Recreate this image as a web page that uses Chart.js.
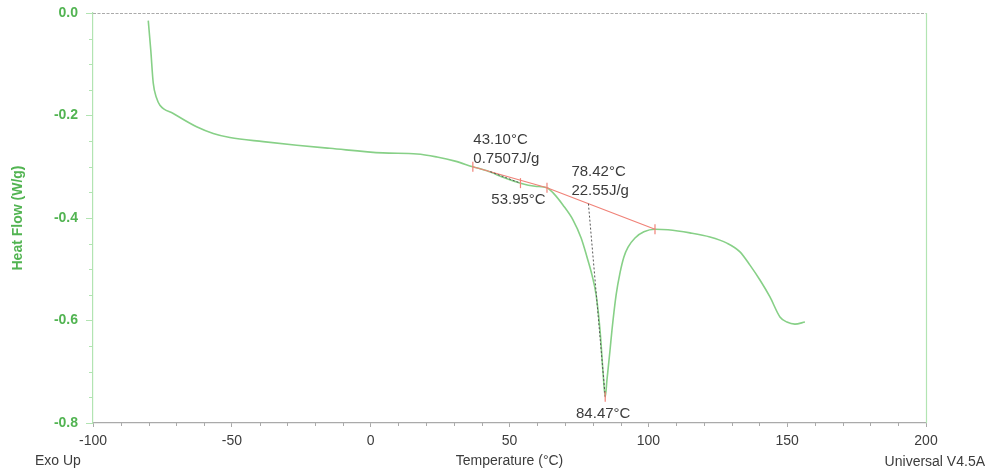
<!DOCTYPE html>
<html>
<head>
<meta charset="utf-8">
<script src="https://cdn.jsdelivr.net/npm/chart.js@4.4.1/dist/chart.umd.min.js"></script>
<style>
  html, body { margin: 0; padding: 0; background: #ffffff; }
  #wrap { width: 991px; height: 476px; }
</style>
</head>
<body>
<div id="wrap"><canvas id="dsc" width="991" height="476"></canvas></div>
<script>
// DSC heat-flow trace (°C, W/g)
const temperature = [
  -80.1, -79.2, -78.3, -77.1, -75.9, -71.1, -62.7, -56.7, -50.7, -38.7,
  -26.6, -14.7, 4.4, 16.7, 23.9, 30.4, 36.8, 41.9, 48.4, 53.95,
  59.2, 63.5, 65.7, 69.3, 72.9, 75.8, 77.9, 79.7, 81.2, 82.6,
  83.7, 84.47, 85.1, 86.2, 86.9, 88.4, 89.8, 91.2, 92.7, 95.2,
  98.4, 102.4, 107.1, 115.0, 122.2, 128.3, 133.0, 136.6, 140.2, 143.8,
  147.4, 149.9, 152.8, 156.4
];
const heatFlow = [
  -0.015, -0.072, -0.137, -0.166, -0.180, -0.196, -0.222, -0.235, -0.243, -0.251,
  -0.258, -0.264, -0.273, -0.275, -0.281, -0.289, -0.300, -0.308, -0.322, -0.332,
  -0.338, -0.341, -0.351, -0.375, -0.404, -0.439, -0.476, -0.511, -0.550, -0.619,
  -0.702, -0.749, -0.716, -0.658, -0.619, -0.550, -0.507, -0.476, -0.457, -0.439,
  -0.427, -0.422, -0.423, -0.429, -0.437, -0.449, -0.466, -0.492, -0.521, -0.554,
  -0.593, -0.603, -0.607, -0.603
];

// Integration baseline: start, split point, end
const baselineT = [36.8, 63.5, 102.4];
const baselineHF = [-0.300, -0.341, -0.422];

// Peak analysis results
const onsetT = [43.10, 78.42];
const enthalpy = [0.7507, 22.55];
const peakT = [53.95, 84.47];
const peakHF = [-0.332, -0.749];

// Axis ranges and tick spacing
const xRange = [-100, 200];
const yRange = [-0.8, 0.0];
const xMajorStep = 50, xMinorStep = 10;
const yMajorStep = 0.2, yMinorStep = 0.05;

const FONT = "'Liberation Sans', Arial, sans-serif";
const GREEN_LINE = 'rgb(135, 208, 135)';
const GREEN_AXIS = 'rgb(178, 228, 178)';
const GREEN_TEXT = 'rgb(82, 180, 82)';
const GREY_AXIS = 'rgb(170, 170, 170)';
const TEXT_DARK = '#3c3c3c';
const RED = 'rgb(240, 130, 120)';

function baselineAt(t) {
  for (let i = 0; i < baselineT.length - 1; i++) {
    if (t >= baselineT[i] && t <= baselineT[i + 1]) {
      const f = (t - baselineT[i]) / (baselineT[i + 1] - baselineT[i]);
      return baselineHF[i] + f * (baselineHF[i + 1] - baselineHF[i]);
    }
  }
  return baselineHF[baselineHF.length - 1];
}

const curve = temperature.map((t, i) => ({ x: t, y: heatFlow[i] }));
const baseline = baselineT.map((t, i) => ({ x: t, y: baselineHF[i] }));
const peaks = peakT.map((t, i) => ({ x: t, y: peakHF[i] }));
const onsetLines = onsetT.map((t, i) => [
  { x: t, y: baselineAt(t) },
  { x: peakT[i], y: peakHF[i] }
]);

// Frame lines, minor ticks and text annotations
const dscDecor = {
  id: 'dscDecor',
  beforeDatasetsDraw(chart) {
    const { ctx, chartArea: a } = chart;
    ctx.save();
    ctx.lineWidth = 1.2;
    ctx.strokeStyle = GREY_AXIS;
    ctx.setLineDash([3, 1.5]);
    ctx.beginPath();
    ctx.moveTo(a.left, a.top + 0.5);
    ctx.lineTo(a.right, a.top + 0.5);
    ctx.stroke();
    ctx.setLineDash([]);
    ctx.strokeStyle = GREEN_AXIS;
    ctx.beginPath();
    ctx.moveTo(a.right + 0.5, a.top);
    ctx.lineTo(a.right + 0.5, a.bottom);
    ctx.stroke();
    ctx.restore();
  },
  afterDraw(chart) {
    const { ctx, chartArea: a, scales } = chart;
    const xs = scales.x, ys = scales.y;
    ctx.save();
    // minor ticks
    ctx.lineWidth = 1;
    ctx.strokeStyle = GREY_AXIS;
    for (let v = xRange[0]; v <= xRange[1]; v += xMinorStep) {
      if (v % xMajorStep === 0) continue;
      const px = Math.round(xs.getPixelForValue(v)) + 0.5;
      ctx.beginPath();
      ctx.moveTo(px, a.bottom);
      ctx.lineTo(px, a.bottom + 3);
      ctx.stroke();
    }
    ctx.strokeStyle = GREEN_AXIS;
    const nY = Math.round((yRange[1] - yRange[0]) / yMinorStep);
    for (let k = 0; k <= nY; k++) {
      if (k % Math.round(yMajorStep / yMinorStep) === 0) continue;
      const py = Math.round(ys.getPixelForValue(yRange[0] + k * yMinorStep)) + 0.5;
      ctx.beginPath();
      ctx.moveTo(a.left - 4, py);
      ctx.lineTo(a.left, py);
      ctx.stroke();
    }

    // peak annotations
    ctx.fillStyle = TEXT_DARK;
    ctx.font = '15px ' + FONT;
    ctx.textBaseline = 'middle';
    for (let i = 0; i < onsetT.length; i++) {
      const ox = xs.getPixelForValue(onsetT[i]);
      const oy = ys.getPixelForValue(baselineAt(onsetT[i]));
      ctx.textAlign = 'left';
      ctx.fillText(onsetT[i].toFixed(2) + '°C', ox - 17, oy - 32);
      ctx.fillText(String(enthalpy[i]) + 'J/g', ox - 17, oy - 13);
      const px = xs.getPixelForValue(peakT[i]);
      const py = ys.getPixelForValue(peakHF[i]);
      ctx.textAlign = 'center';
      ctx.fillText(peakT[i].toFixed(2) + '°C', px - 2, py + 17);
    }

    // corner captions
    ctx.font = '14px ' + FONT;
    ctx.fillStyle = TEXT_DARK;
    ctx.textAlign = 'left';
    ctx.fillText('Exo Up', 35, 461);
    ctx.textAlign = 'right';
    ctx.fillText('Universal V4.5A', 985, 462);
    ctx.restore();
  }
};

new Chart(document.getElementById('dsc'), {
  type: 'scatter',
  data: {
    datasets: [
      {
        label: 'Heat Flow',
        data: curve,
        showLine: true,
        borderColor: GREEN_LINE,
        borderWidth: 1.6,
        pointRadius: 0,
        cubicInterpolationMode: 'monotone',
        order: 3
      },
      {
        label: 'Baseline',
        data: baseline,
        showLine: true,
        borderColor: RED,
        borderWidth: 1.2,
        pointStyle: 'line',
        rotation: 90,
        pointRadius: 5,
        pointBorderColor: RED,
        pointBorderWidth: 1.2,
        order: 2
      },
      ...onsetLines.map((seg, i) => ({
        label: 'Onset ' + (i + 1),
        data: seg,
        showLine: true,
        borderColor: '#555555',
        borderWidth: 1,
        borderDash: [2, 2],
        pointRadius: 0,
        order: 1
      })),
      {
        label: 'Peaks',
        data: peaks,
        showLine: false,
        pointStyle: 'line',
        rotation: 90,
        pointRadius: 5,
        pointBorderColor: RED,
        pointBorderWidth: 1.2,
        order: 0
      }
    ]
  },
  options: {
    responsive: false,
    animation: false,
    devicePixelRatio: 1,
    layout: { padding: { left: 0, right: 65, top: 13, bottom: 0 } },
    plugins: { legend: { display: false }, tooltip: { enabled: false } },
    scales: {
      x: {
        type: 'linear',
        min: xRange[0],
        max: xRange[1],
        afterFit: s => { s.height = 53; s.paddingLeft = 0; s.paddingRight = 0; },
        ticks: {
          stepSize: xMajorStep,
          autoSkip: false,
          maxRotation: 0,
          padding: 6,
          color: TEXT_DARK,
          font: { family: FONT, size: 14 },
          callback: v => String(v)
        },
        grid: { drawOnChartArea: false, drawTicks: true, tickLength: 4, color: GREY_AXIS },
        border: { color: GREY_AXIS, width: 1.2, dash: [3, 1.5] },
        title: {
          display: true,
          text: 'Temperature (°C)',
          color: TEXT_DARK,
          font: { family: FONT, size: 14 },
          padding: { top: 0, bottom: 6 }
        }
      },
      y: {
        type: 'linear',
        min: yRange[0],
        max: yRange[1],
        afterFit: s => { s.width = 93; s.paddingTop = 0; s.paddingBottom = 0; },
        ticks: {
          stepSize: yMajorStep,
          autoSkip: false,
          padding: 8,
          color: GREEN_TEXT,
          font: { family: FONT, size: 14, weight: 'bold' },
          callback: v => v.toFixed(1)
        },
        grid: { drawOnChartArea: false, drawTicks: true, tickLength: 7, color: GREEN_AXIS },
        border: { color: GREEN_AXIS, width: 1.2 },
        title: {
          display: true,
          text: 'Heat Flow (W/g)',
          color: GREEN_TEXT,
          font: { family: FONT, size: 14, weight: 'bold' },
          padding: { top: 10, bottom: 0 }
        }
      }
    }
  },
  plugins: [dscDecor]
});
</script>
</body>
</html>
